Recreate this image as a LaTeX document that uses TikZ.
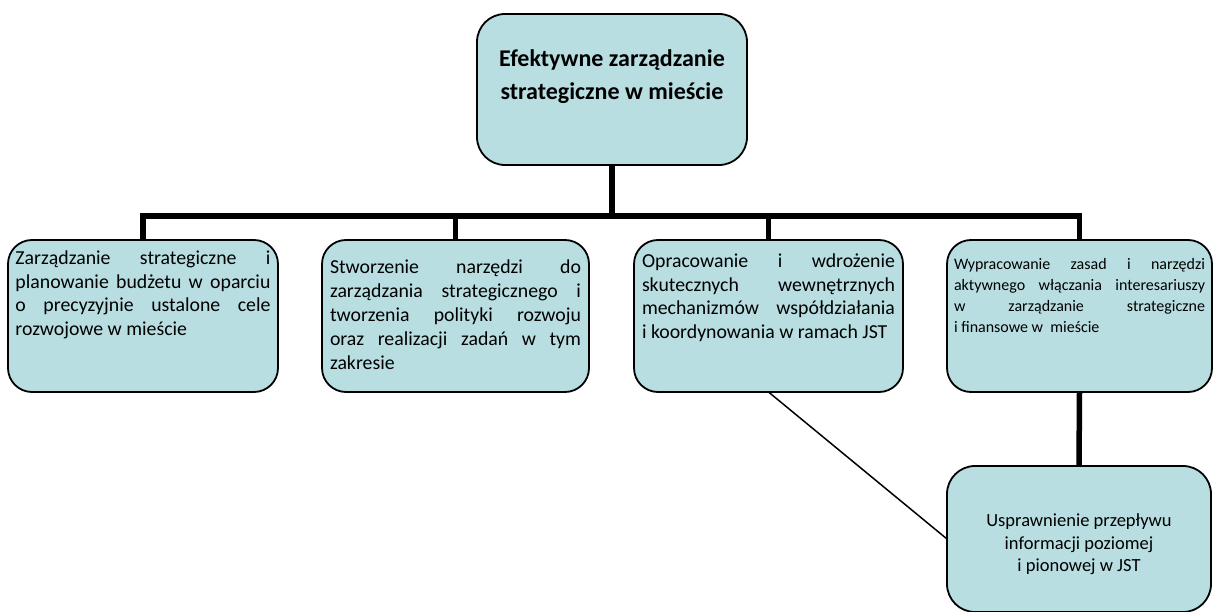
\documentclass[tikz,border=0pt]{standalone}
\usepackage{fontspec}
\setmainfont{Carlito}
\hyphenpenalty=10000
\exhyphenpenalty=10000
\hbadness=10000
\vbadness=10000
\hfuzz=6pt
\definecolor{boxfill}{RGB}{184,222,226}
% #1 width, #2 height, #3 top offset, #4 font size, #5 line skip, #6 alignment, #7 text
\newcommand\boxtext[7]{\parbox[t][#2][t]{#1}{\fontsize{#4}{#5}\selectfont#6\vspace*{#3}#7\par}}
\begin{document}
\begin{tikzpicture}[x=1pt,y=-1pt,
  box/.style={draw=black, line width=1.8pt, fill=boxfill, rounded corners=24pt,
    anchor=north west, inner ysep=0pt, outer sep=0pt},
  conn/.style={line width=5.5pt},
  thin/.style={line width=1.5pt}]
\useasboundingbox (0,0) rectangle (1213,612);

% headline box
\node[box, rounded corners=28pt, inner xsep=10pt] (top) at (477,14)
  {\boxtext{250pt}{151pt}{36pt}{24}{33}{\centering\bfseries}{Efektywne zarządzanie\\ strategiczne w mieście}};

% second level
\node[box, inner xsep=7.5pt] (b1) at (8,240)
  {\boxtext{255pt}{152pt}{11pt}{19.8}{23.5}{}{Zarządzanie strategiczne i\linebreak planowanie budżetu w oparciu\linebreak o precyzyjnie ustalone cele\linebreak rozwojowe w mieście}};
\node[box, inner xsep=8pt] (b2) at (322,240)
  {\boxtext{251pt}{152pt}{20pt}{19.8}{24}{}{Stworzenie narzędzi do\linebreak zarządzania strategicznego i\linebreak tworzenia polityki rozwoju\linebreak oraz realizacji zadań w tym\linebreak zakresie}};
\node[box, inner xsep=8pt] (b3) at (634,240)
  {\boxtext{253pt}{152pt}{14pt}{19.8}{23.5}{}{Opracowanie i wdrożenie\linebreak skutecznych wewnętrznych\linebreak mechanizmów współdziałania\linebreak i koordynowania w ramach JST}};
\node[box, inner xsep=7pt] (b4) at (947,240)
  {\boxtext{251pt}{152pt}{18pt}{16}{21}{}{Wypracowanie zasad i narzędzi\linebreak aktywnego włączania interesariuszy\linebreak w zarządzanie strategiczne\linebreak i finansowe w\ \ mieście}};

% third level
\node[box, rounded corners=28pt, inner xsep=7pt] (b5) at (947,466)
  {\boxtext{250pt}{146pt}{48pt}{18.5}{22.5}{\centering}{Usprawnienie przepływu\\ informacji poziomej\\ i pionowej w JST}};

% connectors
\coordinate (bus) at (612,216);
\draw[conn] (top.south) -- (bus);
\draw[conn] (b1.north) |- (bus) -| (b4.north);
\draw[conn] (b2.north) -- (b2.north |- bus);
\draw[conn] (b3.north) -- (b3.north |- bus);
\draw[conn] (b4.south) -- (b5.north);
\draw[thin] (b3.south) -- (b5.west);
\end{tikzpicture}
\end{document}
